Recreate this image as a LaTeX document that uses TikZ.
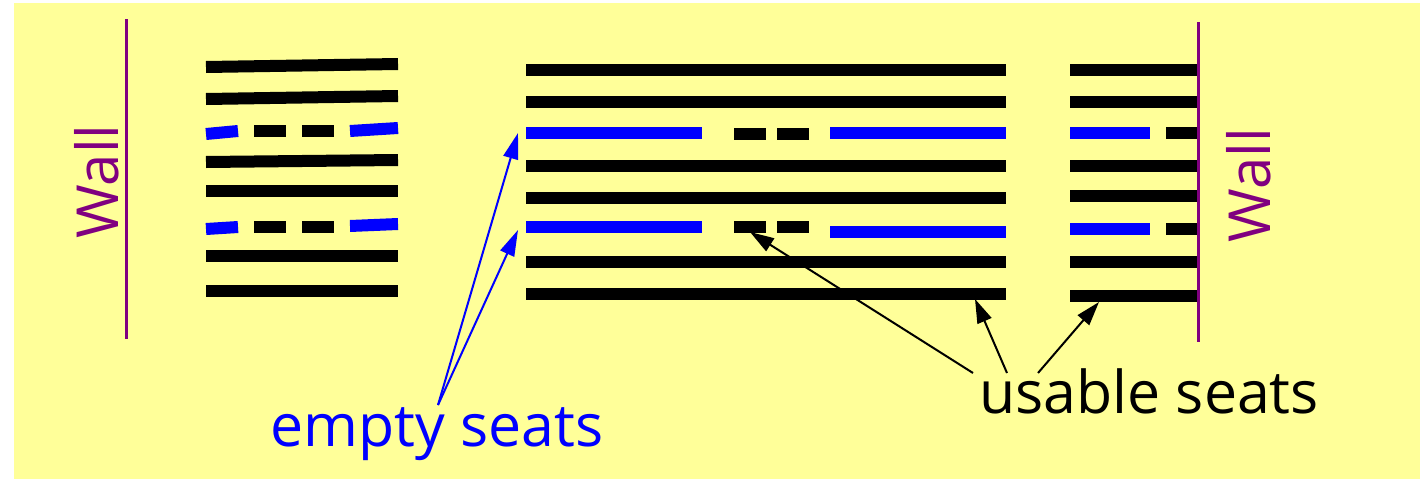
\documentclass[tikz,border=0pt]{standalone}
\usepackage{fontspec}
\setmainfont{Open Sans}
\usetikzlibrary{arrows.meta}
\definecolor{bgyellow}{HTML}{FFFF99}
\definecolor{wallpurple}{HTML}{800080}
\definecolor{seatblue}{HTML}{0000FF}
\tikzset{
  seatrow/.style={line width=12pt, black, line cap=butt},
  emptyrow/.style={line width=12pt, seatblue, line cap=butt},
  wallline/.style={line width=3pt, wallpurple},
  walltext/.style={text=wallpurple, font=\fontsize{58}{60}\selectfont, inner sep=0pt, rotate=90},
  labeltext/.style={font=\fontsize{59}{62}\selectfont, inner sep=0pt, anchor=base west},
  bluearrow/.style={seatblue, line width=2pt, -{Triangle[length=26pt,width=15pt]}},
  blackarrow/.style={black, line width=2pt, -{Triangle[length=24pt,width=15pt]}}
}
\begin{document}
\begin{tikzpicture}[x=1pt,y=-1pt]
\useasboundingbox (0,0) rectangle (1420,479);
\fill[bgyellow] (14,3) rectangle (1420,479);

% walls
\draw[wallline] (126,19) -- (126,339);
\draw[wallline] (1198,22) -- (1198,342);
\node[walltext] (wallL) at (96.5,181.5) {Wall};
\node[walltext] (wallR) at (1248.5,185) {Wall};

% left block
\draw[seatrow] (206,67) -- (398,64);
\draw[seatrow] (206,99) -- (398,96);
\draw[emptyrow] (206,134) -- (238,131);
\draw[seatrow] (254,131) -- (286,131);
\draw[seatrow] (302,131) -- (334,131);
\draw[emptyrow] (350,131) -- (398,128);
\draw[seatrow] (206,162) -- (398,160);
\draw[seatrow] (206,191) -- (398,191);
\draw[emptyrow] (206,229) -- (238,227);
\draw[seatrow] (254,227) -- (286,227);
\draw[seatrow] (302,227) -- (334,227);
\draw[emptyrow] (350,226) -- (398,224);
\draw[seatrow] (206,256) -- (398,256);
\draw[seatrow] (206,291) -- (398,291);

% middle block
\draw[seatrow] (526,70) -- (1006,70);
\draw[seatrow] (526,102) -- (1006,102);
\draw[emptyrow] (526,133) -- (702,133);
\draw[seatrow] (734,134) -- (766,134);
\draw[seatrow] (777,134) -- (809,134);
\draw[emptyrow] (830,133) -- (1006,133);
\draw[seatrow] (526,166) -- (1006,166);
\draw[seatrow] (526,198) -- (1006,198);
\draw[emptyrow] (526,227) -- (702,227);
\draw[seatrow] (734,227) -- (766,227);
\draw[seatrow] (777,227) -- (809,227);
\draw[emptyrow] (830,232) -- (1006,232);
\draw[seatrow] (526,262) -- (1006,262);
\draw[seatrow] (526,294) -- (1006,294);

% right block
\draw[seatrow] (1070,70) -- (1197,70);
\draw[seatrow] (1070,102) -- (1197,102);
\draw[emptyrow] (1070,133) -- (1150,133);
\draw[seatrow] (1166,133) -- (1197,133);
\draw[seatrow] (1070,166) -- (1197,166);
\draw[seatrow] (1070,196) -- (1197,196);
\draw[emptyrow] (1070,229) -- (1150,229);
\draw[seatrow] (1166,229) -- (1197,229);
\draw[seatrow] (1070,262) -- (1197,262);
\draw[seatrow] (1070,296) -- (1197,296);

% labels
\node[labeltext, text=seatblue] (empty) at (270,446) {empty seats};
\node[labeltext, text=black] (usable) at (979,413) {usable seats};

% arrow endpoints
\coordinate (eStart) at (438,405);
\coordinate (eT1) at (518,133);
\coordinate (eT2) at (518,230);
\coordinate (u1) at (973,373);
\coordinate (u2) at (1007,373);
\coordinate (u3) at (1038,373);
\coordinate (uT1) at (750,232);
\coordinate (uT2) at (975,299);
\coordinate (uT3) at (1099,302);

\draw[bluearrow] (eStart) -- (eT1);
\draw[bluearrow] (eStart) -- (eT2);
\draw[blackarrow] (u1) -- (uT1);
\draw[blackarrow] (u2) -- (uT2);
\draw[blackarrow] (u3) -- (uT3);
\end{tikzpicture}
\end{document}
